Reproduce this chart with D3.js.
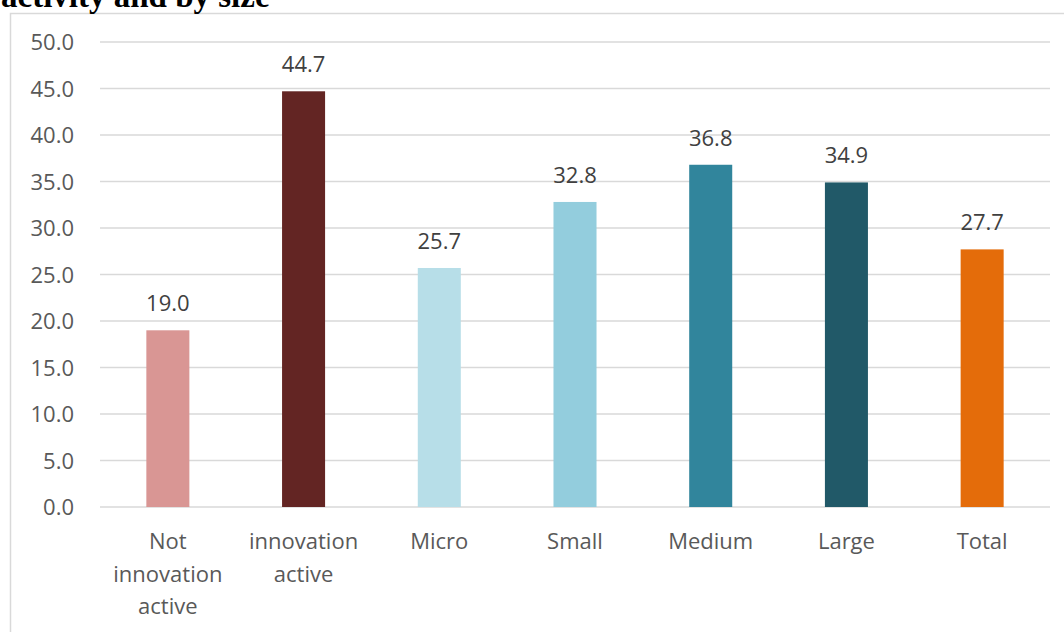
<!DOCTYPE html>
<html><head><meta charset="utf-8">
<script src="https://cdn.jsdelivr.net/npm/d3@7"></script>
<style>body{margin:0;background:#fff;}svg{display:block;}</style>
</head><body>
<svg id="c" width="1064" height="632"></svg>
<script>
const categories = [["Not","innovation","active"],["innovation","active"],["Micro"],["Small"],["Medium"],["Large"],["Total"]];
const values = [19.0, 44.7, 25.7, 32.8, 36.8, 34.9, 27.7];
const colors = ["#d99694","#632523","#b7dee8","#93cddd","#31859c","#215968","#e46c0a"];
const yTicks = [0,5,10,15,20,25,30,35,40,45,50];
const titleText = "activity and by size";

const svg = d3.select("#c");
const font = "'Open Sans', 'Noto Sans', sans-serif";

// outer frame
svg.append("rect").attr("x",10.5).attr("y",13.5).attr("width",1070).attr("height",640)
  .attr("fill","none").attr("stroke","#d9d9d9").attr("stroke-width",1.5);

svg.append("text").attr("x",1).attr("y",7).text(titleText)
  .attr("font-family","'Liberation Serif','Times New Roman',serif").attr("font-weight","bold")
  .attr("font-size",33).attr("fill","#000");

const x = d3.scaleBand().domain(d3.range(values.length)).range([100,1050]).paddingInner(0.683).paddingOuter(0.3415);
const y = d3.scaleLinear().domain([0,50]).range([507,42]);

// gridlines
svg.append("g").selectAll("line").data(yTicks).join("line")
  .attr("x1",100).attr("x2",1050).attr("y1",d=>y(d)).attr("y2",d=>y(d))
  .attr("stroke","#d9d9d9").attr("stroke-width",1.5);

// y axis labels
const yAxis = d3.axisLeft(y).tickValues(yTicks).tickFormat(d3.format(".1f")).tickSize(0).tickPadding(0);
const ya = svg.append("g").attr("transform","translate(74,0)").call(yAxis);
ya.select(".domain").remove();
ya.selectAll("text").attr("font-family",font).attr("font-size",22).attr("fill","#595959").attr("dy","0.35em");

// bars
svg.append("g").selectAll("rect").data(values).join("rect")
  .attr("x",(d,i)=>x(i)).attr("width",x.bandwidth())
  .attr("y",d=>y(d)).attr("height",d=>y(0)-y(d))
  .attr("fill",(d,i)=>colors[i]);

// value labels
svg.append("g").selectAll("text").data(values).join("text")
  .attr("x",(d,i)=>x(i)+x.bandwidth()/2).attr("y",d=>y(d)-19)
  .attr("text-anchor","middle").attr("font-family",font).attr("font-size",22).attr("fill","#404040")
  .text(d=>d.toFixed(1));

// category labels
const cg = svg.append("g").selectAll("text").data(categories).join("text")
  .attr("text-anchor","middle").attr("font-family",font).attr("font-size",22).attr("fill","#595959");
cg.each(function(lines,i){
  const t = d3.select(this);
  lines.forEach((l,j)=>{
    t.append("tspan").attr("x",x(i)+x.bandwidth()/2).attr("y",549+j*32.5).text(l);
  });
});
</script>
</body></html>
